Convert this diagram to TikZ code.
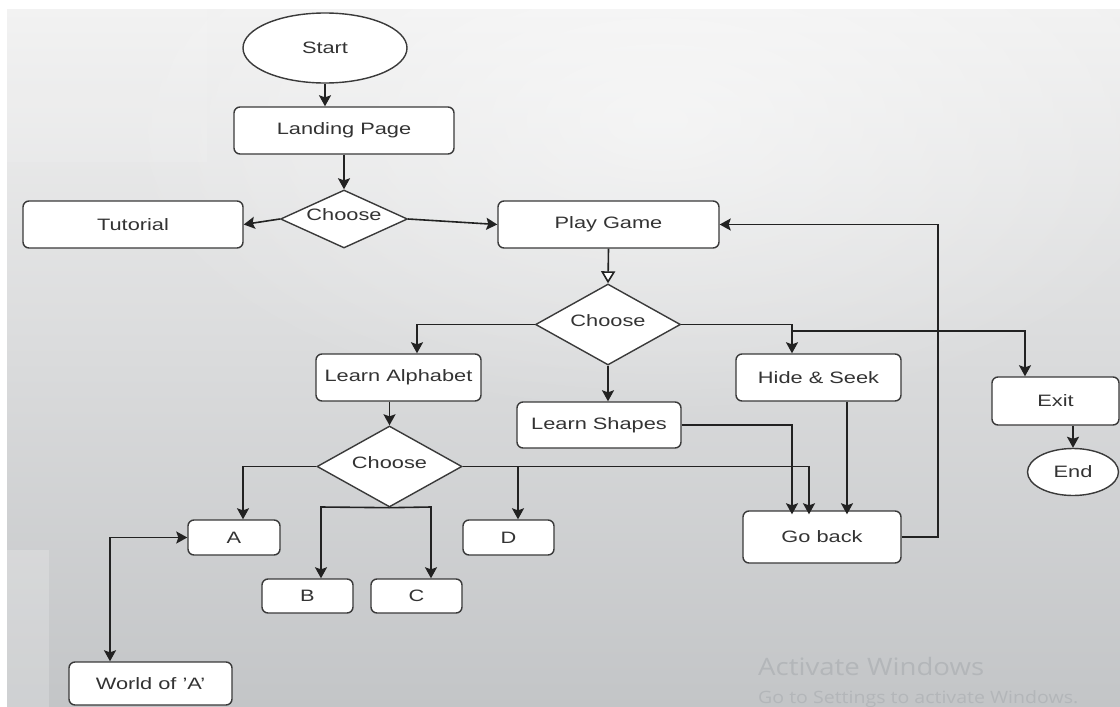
\documentclass[tikz,border=0pt]{standalone}
\usepackage{fontspec}
\setmainfont{Liberation Sans}
\newfontfamily\wmfont{Open Sans}
\usetikzlibrary{shapes.geometric,arrows.meta,fadings}

% widened label text
\newcommand{\sx}[1]{\scalebox{1.32}[1]{#1}}
\newcommand{\sq}{\char"27\relax}

\definecolor{bgtop}{HTML}{F1F1F1}
\definecolor{bgbot}{HTML}{C3C5C7}
\definecolor{edge}{HTML}{3A3A3A}
\definecolor{wire}{HTML}{222222}
\definecolor{txt}{HTML}{333333}
\definecolor{wmark}{HTML}{B3B6B9}

\tikzfading[name=glow, inner color=transparent!0, outer color=transparent!100]

\begin{document}
\begin{tikzpicture}[x=1pt,y=-1pt,
  shape base/.style={draw=edge, fill=white, line width=1.4pt, inner sep=0pt,
    text=txt, font=\fontsize{16.5}{18}\selectfont},
  box/.style={shape base, rectangle, rounded corners=6pt},
  term/.style={shape base, ellipse},
  dia/.style={shape base, diamond},
  lbl/.style={text=txt, font=\fontsize{16.5}{18}\selectfont, inner sep=0pt},
  tip/.style={},
  conn/.style={line width=1.6pt, draw=wire, -{Stealth[length=11pt,width=12pt,inset=2pt]}},
  both/.style={line width=1.6pt, draw=wire, {Stealth[length=11pt,width=12pt,inset=2pt]}-{Stealth[length=11pt,width=12pt,inset=2pt]}},
  openconn/.style={line width=1.6pt, draw=wire, -{Triangle[open, length=12pt, width=14pt, fill=white]}}
]
\useasboundingbox (0,0) rectangle (1120,707);
\clip (0,0) rectangle (1120,707);

% background
\fill[white] (0,0) rectangle (1120,707);
\shade[top color=bgtop, bottom color=bgbot] (7,9) rectangle (1120,707);
\fill[white, opacity=0.5, path fading=glow] (660,120) ellipse (560 and 300);
\fill[white, opacity=0.1] (7,9) rectangle (207,162);
\fill[white, opacity=0.2] (7,550) rectangle (49,707);

% watermark
\node[anchor=base west, inner sep=0pt, text=wmark, font=\wmfont\fontsize{24}{26}\selectfont]
  (wm1) at (758,675) {\scalebox{1.15}[1]{Activate Windows}};
\node[anchor=base west, inner sep=0pt, text=wmark, font=\wmfont\fontsize{17}{19}\selectfont]
  (wm2) at (758,703) {\scalebox{1.15}[1]{Go to Settings to activate Windows.}};

% nodes
\node[term, minimum width=164pt, minimum height=70pt] (start) at (325,48) {\sx{Start}};
\node[box, minimum width=220pt, minimum height=47pt] (landing) at (344,130.5) {\sx{Landing Page}};
\node[dia, minimum width=127pt, minimum height=58pt] (c1) at (344,219) {};
\node[lbl] (c1t) at (344,215) {\sx{Choose}};
\node[box, minimum width=220pt, minimum height=47pt] (tut) at (133,224.5) {\sx{Tutorial}};
\node[box, minimum width=221pt, minimum height=47pt] (play) at (608.5,224.5) {\sx{Play Game}};
\node[dia, minimum width=145pt, minimum height=81pt] (c2) at (608,324.5) {};
\node[lbl] (c2t) at (608,321) {\sx{Choose}};
\node[box, minimum width=165pt, minimum height=47pt] (alpha) at (398.5,377.5) {\sx{Learn Alphabet}};
\node[box, minimum width=164pt, minimum height=46pt] (shapes) at (599,425) {\sx{Learn Shapes}};
\node[box, minimum width=165pt, minimum height=47pt] (hide) at (818.5,377.5) {\sx{Hide \& Seek}};
\node[box, minimum width=127pt, minimum height=48pt] (exit) at (1055.5,401) {\sx{Exit}};
\node[term, minimum width=91pt, minimum height=47pt] (end) at (1073,472) {\sx{End}};
\node[dia, minimum width=145pt, minimum height=81pt] (c3) at (389.5,466.5) {};
\node[lbl] (c3t) at (389.5,463) {\sx{Choose}};
\node[box, minimum width=92pt, minimum height=35pt] (a) at (234,537.5) {\sx{A}};
\node[box, minimum width=91pt, minimum height=34pt] (b) at (307.5,596) {\sx{B}};
\node[box, minimum width=91pt, minimum height=34pt] (c) at (416.5,596) {\sx{C}};
\node[box, minimum width=91pt, minimum height=35pt] (d) at (508.5,537.5) {\sx{D}};
\node[box, minimum width=158pt, minimum height=52pt] (back) at (822,537) {\sx{Go back}};
\node[box, minimum width=163pt, minimum height=43pt] (world) at (150.5,683.5) {\sx{World of \sq A\sq}};

% routing points
\coordinate (j1) at (417,324.5);
\coordinate (j2) at (792,324.5);
\coordinate (j3) at (792,331);
\coordinate (j4) at (1025,331);
\coordinate (j5) at (243,466.5);
\coordinate (j6) at (321,507);
\coordinate (j7) at (431,507);
\coordinate (j8) at (809,466.5);
\coordinate (j9) at (518,466.5);
\coordinate (j10) at (792,425);
\coordinate (j11) at (847,0);
\coordinate (j12) at (938,537);
\coordinate (j13) at (110,537.5);

% connectors
\draw[conn] (start.south) -- (start.south |- landing.north);
\draw[conn] (landing.south) -- (c1.north);
\draw[conn] (c1.west) -- (tut.east);
\draw[conn] (c1.east) -- (play.west);
\draw[openconn] (play.south) -- (c2.north);
\draw[conn] (c2.west) -- (j1) -- (j1 |- alpha.north);
\draw[conn] (c2.south) -- (c2.south |- shapes.north);
\draw[conn] (c2.east) -- (j2) -- (j2 |- hide.north);
\draw[conn] (j3) -- (j4) -- (j4 |- exit.north);
\draw[conn] (end.north |- exit.south) -- (end.north);
\draw[conn] (c3.north |- alpha.south) -- (c3.north);
\draw[conn] (c3.west) -- (j5) -- (j5 |- a.north);
\draw[conn] (c3.south) -- (j6) -- (j6 |- b.north);
\draw[conn] (c3.south) -- (j7) -- (j7 |- c.north);
\draw[conn] (c3.east) -- (j8) -- ([yshift=-4pt]j8 |- back.north);
\draw[conn] (j9) -- (j9 |- d.north);
\draw[conn] (shapes.east) -- (j10) -- ([yshift=-4pt]j10 |- back.north);
\draw[conn] (j11 |- hide.south) -- ([yshift=-4pt]j11 |- back.north);
\draw[conn] (back.east) -- (j12) -- (j12 |- play.east) -- (play.east);
\draw[both] (world.north -| j13) -- (j13) -- (a.west);
\end{tikzpicture}
\end{document}
